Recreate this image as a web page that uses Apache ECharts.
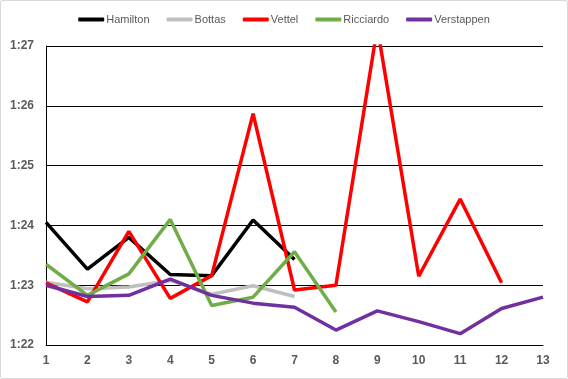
<!DOCTYPE html>
<html><head><meta charset="utf-8">
<script src="https://cdn.jsdelivr.net/npm/echarts@6/dist/echarts.min.js"></script>
<style>html,body{margin:0;padding:0;background:#fff}#c{width:566px;height:377px;border:1px solid #d9d9d9;border-radius:2px}</style>
</head><body><div id="c"></div>
<script>
const laps = ['1','2','3','4','5','6','7','8','9','10','11','12','13'];
const hamilton = [84.05, 83.27, 83.80, 83.18, 83.16, 84.09, 83.43];
const bottas = [83.05, 82.94, 82.97, 83.08, 82.85, 82.99, 82.81];
const vettel = [83.04, 82.72, 83.90, 82.78, 83.16, 85.87, 82.92, 83.00, 87.31, 83.15, 84.44, 83.04];
const ricciardo = [83.35, 82.83, 83.19, 84.10, 82.66, 82.80, 83.56, 82.55];
const verstappen = [83.00, 82.81, 82.83, 83.10, 82.83, 82.70, 82.63, 82.25, 82.57, 82.39, 82.19, 82.61, 82.80];
const yMin = 82, yMax = 87, yStep = 1;

const chart = echarts.init(document.getElementById('c'));
const mk = (name, data, color) => ({
  name, type: 'line', data, symbol: 'none', clip: true,
  lineStyle: {color, width: 3.5}, itemStyle: {color}
});
const fmt = v => Math.floor(v / 60) + ':' + String(Math.round(v % 60)).padStart(2, '0');
chart.setOption({
  animation: false,
  legend: {
    top: 8, left: 'center', itemWidth: 26, itemHeight: 4, itemGap: 17,
    icon: 'roundRect',
    textStyle: {color: '#595959', fontSize: 11, fontFamily: 'Liberation Sans', padding: [0, 0, 0, -3]},
    data: ['Hamilton', 'Bottas', 'Vettel', 'Ricciardo', 'Verstappen']
  },
  grid: {left: 45, right: 24, top: 45, bottom: 33},
  xAxis: {
    type: 'category', data: laps, boundaryGap: false,
    axisLine: {show: true, lineStyle: {color: '#000', width: 1}},
    axisTick: {show: false},
    axisLabel: {color: '#595959', fontSize: 12, fontWeight: 'bold', fontFamily: 'Liberation Sans', margin: 10}
  },
  yAxis: {
    type: 'value', min: yMin, max: yMax, interval: yStep,
    axisLine: {show: true, lineStyle: {color: '#000', width: 1}},
    axisTick: {show: false},
    splitLine: {lineStyle: {color: '#000', width: 1}},
    axisLabel: {color: '#595959', fontSize: 12, fontWeight: 'bold', fontFamily: 'Liberation Sans', margin: 12, formatter: fmt}
  },
  series: [
    mk('Hamilton', hamilton, '#000000'),
    mk('Bottas', bottas, '#bfbfbf'),
    mk('Vettel', vettel, '#ff0000'),
    mk('Ricciardo', ricciardo, '#70ad47'),
    mk('Verstappen', verstappen, '#7030a0')
  ]
});
</script></body></html>
